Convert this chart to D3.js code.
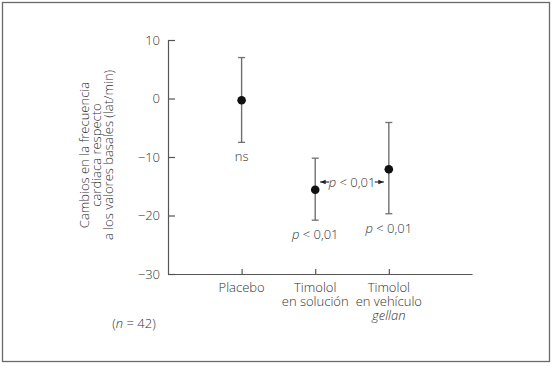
<!DOCTYPE html>
<html><head><meta charset="utf-8">
<script src="https://cdn.jsdelivr.net/npm/d3@7"></script>
<style>
html,body{margin:0;padding:0;background:#fff;}
svg{display:block;}
text{font-family:"Open Sans",sans-serif;font-weight:300;fill:#333;}
</style></head>
<body>
<script>
// Data
const categories = ["Placebo", "Timolol en solución", "Timolol en vehículo gellan"];
const categoryLines = [["Placebo"], ["Timolol", "en solución"], ["Timolol", "en vehículo", "gellan"]];
const means = [-0.3, -15.6, -12.1];
const upper = [7.0, -10.2, -4.1];
const lower = [-7.5, -20.8, -19.7];
const significance = ["ns", "p < 0,01", "p < 0,01"];
const yTicks = [10, 0, -10, -20, -30];
const yLabelLines = ["Cambios en la frecuencia", "cardiaca respecto", "a los valores basales (lat/min)"];
const nNote = "(n = 42)";

const W = 558, H = 366;
const svg = d3.select("body").append("svg").attr("width", W).attr("height", H);

// frame
svg.append("rect").attr("x", 2.5).attr("y", 2.5).attr("width", 547).attr("height", 359)
  .attr("fill", "none").attr("stroke", "#6a6a6a").attr("stroke-width", 1.3);

const y = d3.scaleLinear().domain([-30, 10]).range([274, 40]);
const x = d3.scaleLinear().domain([-1, 3.13]).range([168, 472]);
const idx = categories.map((d, i) => i);

const axisColor = "#555";
const fs = 13;
// Y axis
const gy = svg.append("g").attr("transform", "translate(168,0)")
  .call(d3.axisLeft(y).tickValues(yTicks).tickSizeInner(-7).tickSizeOuter(0).tickPadding(8));
gy.select(".domain").attr("stroke", axisColor).attr("stroke-width", 1.2);
gy.selectAll(".tick line").attr("stroke", axisColor).attr("stroke-width", 1.2);
gy.selectAll(".tick text").attr("font-size", fs).attr("font-family", "'Open Sans',sans-serif")
  .attr("font-weight", 300).attr("fill", "#333");

// X axis
const gx = svg.append("g").attr("transform", "translate(0,274)")
  .call(d3.axisBottom(x).tickValues(idx).tickSizeInner(-5).tickSizeOuter(0).tickFormat(""));
gx.select(".domain").attr("stroke", axisColor).attr("stroke-width", 1.2);
gx.selectAll(".tick line").attr("stroke", axisColor).attr("stroke-width", 1.2);

// category labels (one text per line)
idx.forEach(i => {
  categoryLines[i].forEach((ln, j) => {
    svg.append("text").attr("x", x(i)).attr("y", 292 + j * 14).attr("text-anchor", "middle")
      .attr("font-size", fs).attr("font-style", ln === "gellan" ? "italic" : "normal").text(ln);
  });
});

// error bars
const barColor = "#707070";
const eb = svg.append("g");
idx.forEach(i => {
  eb.append("line").attr("x1", x(i)).attr("x2", x(i)).attr("y1", y(upper[i])).attr("y2", y(lower[i]))
    .attr("stroke", barColor).attr("stroke-width", 1.4);
  [upper[i], lower[i]].forEach(v => {
    eb.append("line").attr("x1", x(i) - 3.5).attr("x2", x(i) + 3.5).attr("y1", y(v)).attr("y2", y(v))
      .attr("stroke", barColor).attr("stroke-width", 1.3);
  });
});
svg.selectAll("circle.pt").data(idx).join("circle").attr("class", "pt")
  .attr("cx", i => x(i)).attr("cy", i => y(means[i])).attr("r", 4.3).attr("fill", "#111");

// significance labels
function sigText(sel, s) {
  if (s.startsWith("p ")) {
    sel.append("tspan").attr("font-style", "italic").text("p");
    sel.append("tspan").text(s.slice(1));
  } else sel.text(s);
}
idx.forEach(i => {
  const t = svg.append("text").attr("x", x(i)).attr("y", y(lower[i]) + 19).attr("text-anchor", "middle").attr("font-size", fs);
  sigText(t, significance[i]);
});

// comparison between the two timolol groups
const midY = 182;
const cmp = svg.append("text").attr("x", (x(1) + x(2)) / 2).attr("y", midY + 4.5)
  .attr("text-anchor", "middle").attr("font-size", fs);
sigText(cmp, "p < 0,01");
const defs = svg.append("defs");
defs.append("marker").attr("id", "ah").attr("viewBox", "0 0 10 10").attr("refX", 10).attr("refY", 5)
  .attr("markerWidth", 5).attr("markerHeight", 5).attr("orient", "auto")
  .append("path").attr("d", "M0,1 L10,5 L0,9 Z").attr("fill", "#222");
svg.append("line").attr("x1", x(1) + 14).attr("x2", x(1) + 5).attr("y1", midY).attr("y2", midY)
  .attr("stroke", "#222").attr("stroke-width", 1.1).attr("marker-end", "url(#ah)");
svg.append("line").attr("x1", x(2) - 14).attr("x2", x(2) - 5).attr("y1", midY).attr("y2", midY)
  .attr("stroke", "#222").attr("stroke-width", 1.1).attr("marker-end", "url(#ah)");

// y label
yLabelLines.forEach((ln, j) => {
  svg.append("text").attr("transform", `translate(${89 + j * 12},155) rotate(-90)`)
    .attr("text-anchor", "middle").attr("font-size", fs).text(ln);
});

// n note
const nt = svg.append("text").attr("x", 134).attr("y", 328).attr("text-anchor", "middle").attr("font-size", fs);
nt.append("tspan").text("(");
nt.append("tspan").attr("font-style", "italic").text("n");
nt.append("tspan").text(" = 42)");
</script>
</body></html>
